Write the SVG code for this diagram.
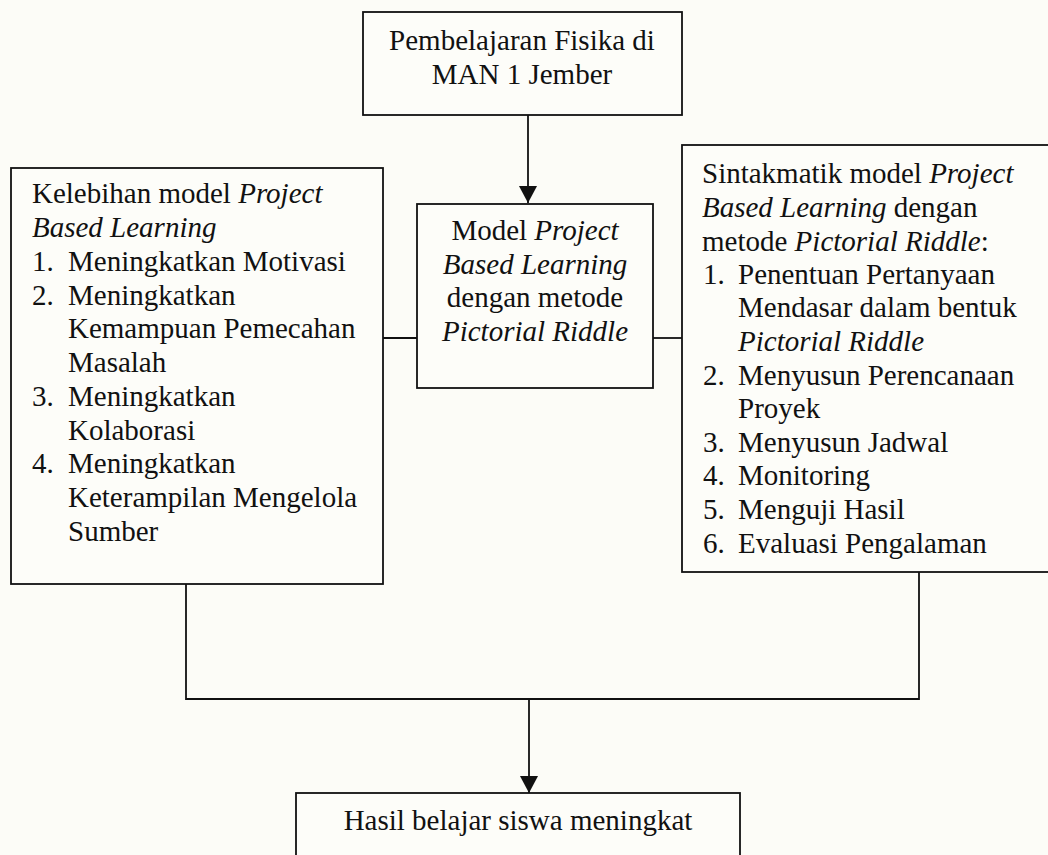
<svg xmlns="http://www.w3.org/2000/svg" width="1048" height="855" viewBox="0 0 1048 855">
<style>
.box{fill:#fdfdf9;stroke:#111;stroke-width:1.8}
.t{font-family:"Liberation Serif","Times New Roman",serif;font-size:29px;fill:#111}
.c{text-anchor:middle}
.i{font-style:italic}
.ln{fill:none;stroke:#111;stroke-width:1.8}
</style>
<defs>
<marker id="arr" markerUnits="userSpaceOnUse" markerWidth="18" markerHeight="18" viewBox="0 0 18 18" refX="17" refY="9" orient="auto">
<path d="M0,0 L17,9 L0,18 Z" fill="#111"/>
</marker>
</defs>
<rect width="1048" height="855" fill="#fcfcf7"/>
<g id="connectors">
<line class="ln" x1="528" y1="115" x2="528" y2="203" marker-end="url(#arr)"/>
<line class="ln" x1="383" y1="338" x2="417" y2="338"/>
<line class="ln" x1="653" y1="338" x2="682" y2="338"/>
<polyline class="ln" points="186,584 186,699 919,699 919,572"/>
<line class="ln" x1="529" y1="699" x2="529" y2="793" marker-end="url(#arr)"/>
</g>
<g id="top">
<rect class="box" x="363" y="12" width="319" height="103"/>
<text class="t c" x="522" y="50">Pembelajaran Fisika di</text>
<text class="t c" x="522" y="84">MAN 1 Jember</text>
</g>
<g id="center">
<rect class="box" x="417" y="204" width="236" height="184"/>
<text class="t c" x="535" y="240">Model <tspan class="i">Project</tspan></text>
<text class="t c i" x="535" y="274">Based Learning</text>
<text class="t c" x="535" y="307">dengan metode</text>
<text class="t c i" x="535" y="341">Pictorial Riddle</text>
</g>
<g id="left">
<rect class="box" x="11" y="168" width="372" height="416"/>
<text class="t" x="32" y="203">Kelebihan model <tspan class="i">Project</tspan></text>
<text class="t i" x="32" y="237">Based Learning</text>
<text class="t" x="32" y="271">1.</text><text class="t" x="68" y="271">Meningkatkan Motivasi</text>
<text class="t" x="32" y="305">2.</text><text class="t" x="68" y="305">Meningkatkan</text>
<text class="t" x="68" y="338">Kemampuan Pemecahan</text>
<text class="t" x="68" y="372">Masalah</text>
<text class="t" x="32" y="406">3.</text><text class="t" x="68" y="406">Meningkatkan</text>
<text class="t" x="68" y="440">Kolaborasi</text>
<text class="t" x="32" y="473">4.</text><text class="t" x="68" y="473">Meningkatkan</text>
<text class="t" x="68" y="507">Keterampilan Mengelola</text>
<text class="t" x="68" y="541">Sumber</text>
</g>
<g id="right">
<rect class="box" x="682" y="145" width="368" height="427"/>
<text class="t" x="702" y="183">Sintakmatik model <tspan class="i">Project</tspan></text>
<text class="t" x="702" y="217"><tspan class="i">Based Learning</tspan> dengan</text>
<text class="t" x="702" y="251">metode <tspan class="i">Pictorial Riddle</tspan>:</text>
<text class="t" x="703" y="284">1.</text><text class="t" x="738" y="284">Penentuan Pertanyaan</text>
<text class="t" x="738" y="317">Mendasar dalam bentuk</text>
<text class="t i" x="738" y="351">Pictorial Riddle</text>
<text class="t" x="703" y="385">2.</text><text class="t" x="738" y="385">Menyusun Perencanaan</text>
<text class="t" x="738" y="418">Proyek</text>
<text class="t" x="703" y="452">3.</text><text class="t" x="738" y="452">Menyusun Jadwal</text>
<text class="t" x="703" y="485">4.</text><text class="t" x="738" y="485">Monitoring</text>
<text class="t" x="703" y="519">5.</text><text class="t" x="738" y="519">Menguji Hasil</text>
<text class="t" x="703" y="553">6.</text><text class="t" x="738" y="553">Evaluasi Pengalaman</text>
</g>
<g id="bottom">
<rect class="box" x="296" y="793" width="444" height="80"/>
<text class="t c" x="518" y="830">Hasil belajar siswa meningkat</text>
</g>
</svg>
